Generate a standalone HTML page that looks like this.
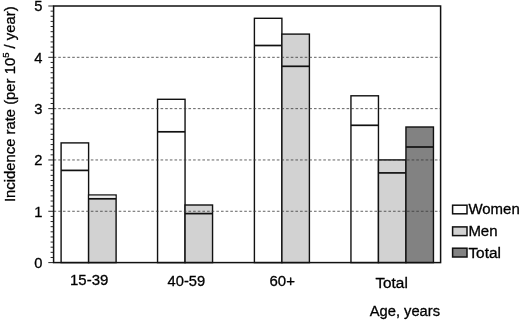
<!DOCTYPE html>
<html lang="en"><head><meta charset="utf-8"><title>Incidence rate by age</title>
<style>html,body{margin:0;padding:0;background:#fff}body{width:520px;height:321px;overflow:hidden}</style></head>
<body>
<svg width="520" height="321" viewBox="0 0 520 321" style="display:block">
<rect width="520" height="321" fill="#fff"/>
<rect x="61.10" y="142.90" width="27.50" height="119.70" fill="#fff" stroke="#111" stroke-width="1.4"/>
<line x1="61.10" x2="88.60" y1="170.40" y2="170.40" stroke="#111" stroke-width="1.7"/>
<rect x="88.60" y="195.00" width="27.50" height="67.60" fill="#d2d2d2" stroke="#111" stroke-width="1.4"/>
<rect x="89.30" y="195.70" width="26.10" height="3.10" fill="#efefef"/>
<line x1="88.60" x2="116.10" y1="198.80" y2="198.80" stroke="#111" stroke-width="1.7"/>
<rect x="157.55" y="99.30" width="27.50" height="163.30" fill="#fff" stroke="#111" stroke-width="1.4"/>
<line x1="157.55" x2="185.05" y1="131.80" y2="131.80" stroke="#111" stroke-width="1.7"/>
<rect x="185.05" y="205.00" width="27.50" height="57.60" fill="#d2d2d2" stroke="#111" stroke-width="1.4"/>
<line x1="185.05" x2="212.55" y1="213.60" y2="213.60" stroke="#111" stroke-width="1.7"/>
<rect x="254.40" y="18.30" width="27.50" height="244.30" fill="#fff" stroke="#111" stroke-width="1.4"/>
<line x1="254.40" x2="281.90" y1="45.50" y2="45.50" stroke="#111" stroke-width="1.7"/>
<rect x="281.90" y="34.10" width="27.50" height="228.50" fill="#d2d2d2" stroke="#111" stroke-width="1.4"/>
<line x1="281.90" x2="309.40" y1="66.30" y2="66.30" stroke="#111" stroke-width="1.7"/>
<rect x="350.95" y="95.80" width="27.50" height="166.80" fill="#fff" stroke="#111" stroke-width="1.4"/>
<line x1="350.95" x2="378.45" y1="125.30" y2="125.30" stroke="#111" stroke-width="1.7"/>
<rect x="378.45" y="159.90" width="27.50" height="102.70" fill="#d2d2d2" stroke="#111" stroke-width="1.4"/>
<line x1="378.45" x2="405.95" y1="172.90" y2="172.90" stroke="#111" stroke-width="1.7"/>
<rect x="405.95" y="127.00" width="27.50" height="135.60" fill="#828282" stroke="#111" stroke-width="1.4"/>
<line x1="405.95" x2="433.45" y1="147.00" y2="147.00" stroke="#111" stroke-width="1.7"/>
<line x1="53.60" x2="440.60" y1="211.28" y2="211.28" stroke="#3a3a3a" stroke-width="0.8" stroke-dasharray="2.6 2.05"/>
<line x1="53.60" x2="440.60" y1="159.96" y2="159.96" stroke="#3a3a3a" stroke-width="0.8" stroke-dasharray="2.6 2.05"/>
<line x1="53.60" x2="440.60" y1="108.64" y2="108.64" stroke="#3a3a3a" stroke-width="0.8" stroke-dasharray="2.6 2.05"/>
<line x1="53.60" x2="440.60" y1="57.32" y2="57.32" stroke="#3a3a3a" stroke-width="0.8" stroke-dasharray="2.6 2.05"/>
<rect x="53.6" y="6.0" width="387.00" height="256.60" fill="none" stroke="#111" stroke-width="1.5"/>
<line x1="48.3" x2="53.6" y1="262.60" y2="262.60" stroke="#111" stroke-width="0.9"/>
<line x1="50.6" x2="53.6" y1="257.47" y2="257.47" stroke="#111" stroke-width="0.9"/>
<line x1="50.6" x2="53.6" y1="252.34" y2="252.34" stroke="#111" stroke-width="0.9"/>
<line x1="50.6" x2="53.6" y1="247.20" y2="247.20" stroke="#111" stroke-width="0.9"/>
<line x1="50.6" x2="53.6" y1="242.07" y2="242.07" stroke="#111" stroke-width="0.9"/>
<line x1="50.6" x2="53.6" y1="236.94" y2="236.94" stroke="#111" stroke-width="0.9"/>
<line x1="50.6" x2="53.6" y1="231.81" y2="231.81" stroke="#111" stroke-width="0.9"/>
<line x1="50.6" x2="53.6" y1="226.68" y2="226.68" stroke="#111" stroke-width="0.9"/>
<line x1="50.6" x2="53.6" y1="221.54" y2="221.54" stroke="#111" stroke-width="0.9"/>
<line x1="50.6" x2="53.6" y1="216.41" y2="216.41" stroke="#111" stroke-width="0.9"/>
<line x1="48.3" x2="53.6" y1="211.28" y2="211.28" stroke="#111" stroke-width="0.9"/>
<line x1="50.6" x2="53.6" y1="206.15" y2="206.15" stroke="#111" stroke-width="0.9"/>
<line x1="50.6" x2="53.6" y1="201.02" y2="201.02" stroke="#111" stroke-width="0.9"/>
<line x1="50.6" x2="53.6" y1="195.88" y2="195.88" stroke="#111" stroke-width="0.9"/>
<line x1="50.6" x2="53.6" y1="190.75" y2="190.75" stroke="#111" stroke-width="0.9"/>
<line x1="50.6" x2="53.6" y1="185.62" y2="185.62" stroke="#111" stroke-width="0.9"/>
<line x1="50.6" x2="53.6" y1="180.49" y2="180.49" stroke="#111" stroke-width="0.9"/>
<line x1="50.6" x2="53.6" y1="175.36" y2="175.36" stroke="#111" stroke-width="0.9"/>
<line x1="50.6" x2="53.6" y1="170.22" y2="170.22" stroke="#111" stroke-width="0.9"/>
<line x1="50.6" x2="53.6" y1="165.09" y2="165.09" stroke="#111" stroke-width="0.9"/>
<line x1="48.3" x2="53.6" y1="159.96" y2="159.96" stroke="#111" stroke-width="0.9"/>
<line x1="50.6" x2="53.6" y1="154.83" y2="154.83" stroke="#111" stroke-width="0.9"/>
<line x1="50.6" x2="53.6" y1="149.70" y2="149.70" stroke="#111" stroke-width="0.9"/>
<line x1="50.6" x2="53.6" y1="144.56" y2="144.56" stroke="#111" stroke-width="0.9"/>
<line x1="50.6" x2="53.6" y1="139.43" y2="139.43" stroke="#111" stroke-width="0.9"/>
<line x1="50.6" x2="53.6" y1="134.30" y2="134.30" stroke="#111" stroke-width="0.9"/>
<line x1="50.6" x2="53.6" y1="129.17" y2="129.17" stroke="#111" stroke-width="0.9"/>
<line x1="50.6" x2="53.6" y1="124.04" y2="124.04" stroke="#111" stroke-width="0.9"/>
<line x1="50.6" x2="53.6" y1="118.90" y2="118.90" stroke="#111" stroke-width="0.9"/>
<line x1="50.6" x2="53.6" y1="113.77" y2="113.77" stroke="#111" stroke-width="0.9"/>
<line x1="48.3" x2="53.6" y1="108.64" y2="108.64" stroke="#111" stroke-width="0.9"/>
<line x1="50.6" x2="53.6" y1="103.51" y2="103.51" stroke="#111" stroke-width="0.9"/>
<line x1="50.6" x2="53.6" y1="98.38" y2="98.38" stroke="#111" stroke-width="0.9"/>
<line x1="50.6" x2="53.6" y1="93.24" y2="93.24" stroke="#111" stroke-width="0.9"/>
<line x1="50.6" x2="53.6" y1="88.11" y2="88.11" stroke="#111" stroke-width="0.9"/>
<line x1="50.6" x2="53.6" y1="82.98" y2="82.98" stroke="#111" stroke-width="0.9"/>
<line x1="50.6" x2="53.6" y1="77.85" y2="77.85" stroke="#111" stroke-width="0.9"/>
<line x1="50.6" x2="53.6" y1="72.72" y2="72.72" stroke="#111" stroke-width="0.9"/>
<line x1="50.6" x2="53.6" y1="67.58" y2="67.58" stroke="#111" stroke-width="0.9"/>
<line x1="50.6" x2="53.6" y1="62.45" y2="62.45" stroke="#111" stroke-width="0.9"/>
<line x1="48.3" x2="53.6" y1="57.32" y2="57.32" stroke="#111" stroke-width="0.9"/>
<line x1="50.6" x2="53.6" y1="52.19" y2="52.19" stroke="#111" stroke-width="0.9"/>
<line x1="50.6" x2="53.6" y1="47.06" y2="47.06" stroke="#111" stroke-width="0.9"/>
<line x1="50.6" x2="53.6" y1="41.92" y2="41.92" stroke="#111" stroke-width="0.9"/>
<line x1="50.6" x2="53.6" y1="36.79" y2="36.79" stroke="#111" stroke-width="0.9"/>
<line x1="50.6" x2="53.6" y1="31.66" y2="31.66" stroke="#111" stroke-width="0.9"/>
<line x1="50.6" x2="53.6" y1="26.53" y2="26.53" stroke="#111" stroke-width="0.9"/>
<line x1="50.6" x2="53.6" y1="21.40" y2="21.40" stroke="#111" stroke-width="0.9"/>
<line x1="50.6" x2="53.6" y1="16.26" y2="16.26" stroke="#111" stroke-width="0.9"/>
<line x1="50.6" x2="53.6" y1="11.13" y2="11.13" stroke="#111" stroke-width="0.9"/>
<line x1="48.3" x2="53.6" y1="6.00" y2="6.00" stroke="#111" stroke-width="0.9"/>
<text transform="translate(42.4 268.0) scale(1 1)" text-anchor="end" font-family="Liberation Sans, Arial, sans-serif" font-size="14.7" fill="#000" stroke="#000" stroke-width="0.3">0</text>
<text transform="translate(42.4 216.68) scale(1 1)" text-anchor="end" font-family="Liberation Sans, Arial, sans-serif" font-size="14.7" fill="#000" stroke="#000" stroke-width="0.3">1</text>
<text transform="translate(42.4 165.36) scale(1 1)" text-anchor="end" font-family="Liberation Sans, Arial, sans-serif" font-size="14.7" fill="#000" stroke="#000" stroke-width="0.3">2</text>
<text transform="translate(42.4 114.04) scale(1 1)" text-anchor="end" font-family="Liberation Sans, Arial, sans-serif" font-size="14.7" fill="#000" stroke="#000" stroke-width="0.3">3</text>
<text transform="translate(42.4 62.72) scale(1 1)" text-anchor="end" font-family="Liberation Sans, Arial, sans-serif" font-size="14.7" fill="#000" stroke="#000" stroke-width="0.3">4</text>
<text transform="translate(42.4 11.4) scale(1 1)" text-anchor="end" font-family="Liberation Sans, Arial, sans-serif" font-size="14.7" fill="#000" stroke="#000" stroke-width="0.3">5</text>
<text transform="translate(70.0 284.6) scale(1.02 1)" text-anchor="start" font-family="Liberation Sans, Arial, sans-serif" font-size="14.7" fill="#000" stroke="#000" stroke-width="0.3">15-39</text>
<text transform="translate(167.6 286.2) scale(1 1)" text-anchor="start" font-family="Liberation Sans, Arial, sans-serif" font-size="14.7" fill="#000" stroke="#000" stroke-width="0.3">40-59</text>
<text transform="translate(269.5 285.8) scale(1.02 1)" text-anchor="start" font-family="Liberation Sans, Arial, sans-serif" font-size="14.7" fill="#000" stroke="#000" stroke-width="0.3">60+</text>
<text transform="translate(375.4 288) scale(1.045 1)" text-anchor="start" font-family="Liberation Sans, Arial, sans-serif" font-size="14.7" fill="#000" stroke="#000" stroke-width="0.3">Total</text>
<text transform="translate(369.8 316.2) scale(1 1)" text-anchor="start" font-family="Liberation Sans, Arial, sans-serif" font-size="14.7" fill="#000" stroke="#000" stroke-width="0.3">Age, years</text>
<rect x="452.6" y="205.2" width="14.4" height="8.60" fill="#fff" stroke="#111" stroke-width="1.5"/>
<text transform="translate(468.4 214.3) scale(1.02 1)" text-anchor="start" font-family="Liberation Sans, Arial, sans-serif" font-size="14.7" fill="#000" stroke="#000" stroke-width="0.3">Women</text>
<rect x="452.6" y="226.9" width="14.4" height="8.70" fill="#d2d2d2" stroke="#111" stroke-width="1.5"/>
<text transform="translate(468.4 236.2) scale(1.02 1)" text-anchor="start" font-family="Liberation Sans, Arial, sans-serif" font-size="14.7" fill="#000" stroke="#000" stroke-width="0.3">Men</text>
<rect x="452.6" y="248.2" width="14.4" height="8.80" fill="#828282" stroke="#111" stroke-width="1.5"/>
<text transform="translate(468.4 258.0) scale(1.05 1)" text-anchor="start" font-family="Liberation Sans, Arial, sans-serif" font-size="14.7" fill="#000" stroke="#000" stroke-width="0.3">Total</text>
<text transform="translate(14.6 202.1) rotate(-90)" font-family="Liberation Sans, Arial, sans-serif" font-size="14.83" fill="#000" stroke="#000" stroke-width="0.3">Incidence rate (per 10<tspan font-size="9.5" dy="-5.5">5</tspan><tspan dy="5.5"> / year)</tspan></text>
</svg>
</body></html>
